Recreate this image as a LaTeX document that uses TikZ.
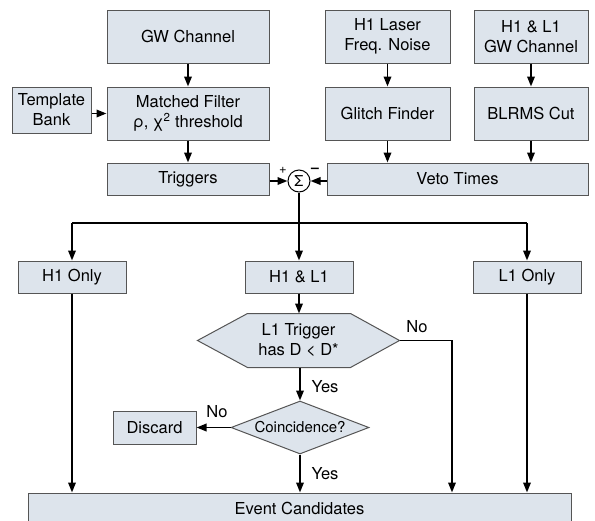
\documentclass[tikz,border=0pt]{standalone}
\usepackage{fontspec}
\setmainfont{TeX Gyre Heros}
\usetikzlibrary{arrows.meta,shapes.geometric,backgrounds,calc}
\definecolor{boxfill}{HTML}{DDE4EC}
\definecolor{boxline}{HTML}{555555}
\begin{document}
\begin{tikzpicture}[x=1pt,y=-1pt,
  box/.style={draw=boxline, line width=1pt, fill=boxfill, inner sep=0pt, align=center, font=\fontsize{16.5}{20}\selectfont},
  conn/.style={line width=1.8pt, -{Triangle[length=10pt,width=7.5pt]}},
  plain/.style={line width=1.8pt},
  lbl/.style={font=\fontsize{16.5}{20}\selectfont, inner sep=0pt}]
\useasboundingbox (0,0) rectangle (595,520);

% top row
\node[box, minimum width=162pt, minimum height=53pt] (gw) at (188,36.5) {GW Channel};
\node[box, minimum width=125pt, minimum height=53pt] (laser) at (387.5,36.5) {H1 Laser\\Freq. Noise};
\node[box, minimum width=114pt, minimum height=53pt] (hlgw) at (531,36.5) {H1 \& L1\\GW Channel};
% second row
\node[box, minimum width=79pt, minimum height=46pt] (tb) at (51.5,110) {Template\\Bank};
\node[box, minimum width=162pt, minimum height=53pt] (mf) at (188,113.5) {Matched Filter\\ρ, χ\textsuperscript{2} threshold};
\node[box, minimum width=125pt, minimum height=53pt] (glitch) at (387.5,113.5) {Glitch Finder};
\node[box, minimum width=114pt, minimum height=53pt] (blrms) at (531,113.5) {BLRMS Cut};
% third row
\node[box, minimum width=162pt, minimum height=32pt] (trig) at (188,179) {Triggers};
\node[box, minimum width=261pt, minimum height=32pt] (veto) at (457.5,179) {Veto Times};
\node[draw=black, line width=1pt, fill=white, circle, minimum size=22pt, inner sep=0pt, font=\fontsize{15}{15}\selectfont] (sum) at (299,181) {Σ};
\node[lbl, font=\fontsize{13}{13}\selectfont] (plus) at (283,170) {+};
\node[lbl, font=\bfseries\fontsize{14}{14}\selectfont] (minus) at (315,170) {–};
% branch boxes
\node[box, minimum width=108pt, minimum height=32pt] (h1) at (72,277) {H1 Only};
\node[box, minimum width=108pt, minimum height=32pt] (hl1) at (299,277) {H1 \& L1};
\node[box, minimum width=108pt, minimum height=32pt] (l1) at (527,277) {L1 Only};
% decisions
\node[box, draw=none, fill=none, minimum width=201pt, minimum height=53pt] (hex) at (298.5,340.5) {L1 Trigger\\has D < D*};
\begin{scope}[on background layer]
\filldraw[draw=boxline, fill=boxfill, line width=1pt] (hex.west) -- ($(hex.north west)+(50,0)$) -- ($(hex.north east)+(-49,0)$) -- (hex.east) -- ($(hex.south east)+(-49,0)$) -- ($(hex.south west)+(50,0)$) -- cycle;
\end{scope}
\node[box, diamond, aspect=2.6, minimum width=138pt, minimum height=53pt, font=\fontsize{15}{18}\selectfont] (coin) at (300,427.5) {Coincidence?};
\node[box, minimum width=83pt, minimum height=33pt] (disc) at (154.5,427.5) {Discard};
\node[box, minimum width=543pt, minimum height=30pt] (event) at (299.5,508) {Event Candidates};

% connectors
\draw[conn] (gw) -- (mf);
\draw[conn] (tb.east |- mf.west) -- (mf.west);
\draw[conn] (mf) -- (trig);
\draw[conn] (laser) -- (glitch);
\draw[conn] (hlgw) -- (blrms);
\draw[conn] (glitch.south) -- (glitch.south |- veto.north);
\draw[conn] (blrms.south) -- (blrms.south |- veto.north);
\draw[conn] (trig.east |- sum.west) -- (sum.west);
\draw[conn] (veto.west |- sum.east) -- (sum.east);
\coordinate (split) at (299,223);
\draw[plain] (sum.south) -- (split);
\draw[plain] (h1.north |- split) -- (l1.north |- split);
\draw[conn] (split) -- (hl1.north);
\draw[conn] (h1.north |- split) -- (h1.north);
\draw[conn] (l1.north |- split) -- (l1.north);
\draw[conn] (hl1.south) -- (hl1.south |- hex.north);
\coordinate (nocorner) at (452,340.5);
\draw[conn] (hex.east) -- (nocorner) -- (nocorner |- event.north);
\draw[conn] (hex.south -| coin.north) -- (coin.north);
\draw[conn] (coin.west) -- (disc.east);
\draw[conn] (coin.south) -- (coin.south |- event.north);
\draw[conn] (h1.south) -- (h1.south |- event.north);
\draw[conn] (l1.south) -- (l1.south |- event.north);

% labels
\node[lbl] (no1) at (417,327) {No};
\node[lbl] (yes1) at (325,387) {Yes};
\node[lbl] (no2) at (217,412) {No};
\node[lbl] (yes2) at (325,474) {Yes};
\end{tikzpicture}
\end{document}
